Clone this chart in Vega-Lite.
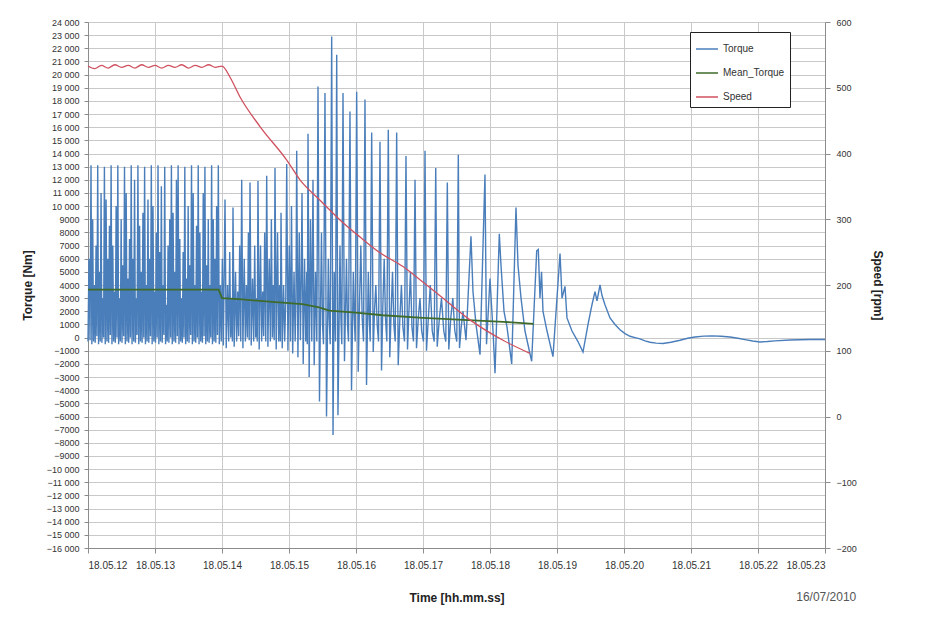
{
  "$schema": "https://vega.github.io/schema/vega-lite/v6.json",
  "width": 737,
  "height": 526,
  "autosize": {"type": "none"},
  "padding": {"left": 88, "top": 22, "right": 111, "bottom": 80},
  "background": "white",
  "title": {"text": "16/07/2010", "orient": "bottom", "anchor": "end", "offset": -11, "fontSize": 12, "fontWeight": "normal", "color": "#555555", "dx": -27},
  "config": {
    "font": "Liberation Sans",
    "view": {"stroke": null},
    "axis": {"labelFontSize": 9, "labelColor": "#333333", "domainColor": "#8c8c8c", "tickColor": "#8c8c8c", "gridColor": "#c9c9c9", "gridWidth": 1, "titleFontSize": 12, "titleFontWeight": "bold", "titleColor": "#222222"},
    "legend": {"strokeColor": "#222222", "fillColor": "white", "padding": 5, "labelFontSize": 10, "labelColor": "#333333", "rowPadding": 7, "symbolType": "stroke", "symbolSize": 484, "symbolStrokeWidth": 1.5, "cornerRadius": 0}
  },
  "datasets": {
    "torque": [
      {"t":0,"v":-300},{"t":0.015,"v":6000},{"t":0.03,"v":-200},
      {"t":0.045,"v":13100},{"t":0.0575,"v":-500},{"t":0.07,"v":9000},{"t":0.0825,"v":-300},{"t":0.095,"v":4000},{"t":0.1075,"v":-400},{"t":0.12,"v":7000},{"t":0.1325,"v":100},
      {"t":0.145,"v":13100},{"t":0.1575,"v":-500},{"t":0.17,"v":5000},{"t":0.1825,"v":-300},{"t":0.195,"v":11000},{"t":0.2075,"v":-400},{"t":0.22,"v":3000},{"t":0.2325,"v":0},
      {"t":0.245,"v":13000},{"t":0.2575,"v":-500},{"t":0.27,"v":10500},{"t":0.2825,"v":-300},{"t":0.295,"v":6000},{"t":0.3075,"v":-400},{"t":0.32,"v":8500},{"t":0.3325,"v":200},
      {"t":0.345,"v":13100},{"t":0.3575,"v":-500},{"t":0.37,"v":7000},{"t":0.3825,"v":-300},{"t":0.395,"v":3500},{"t":0.4075,"v":-400},{"t":0.42,"v":10000},{"t":0.4325,"v":0},
      {"t":0.445,"v":13100},{"t":0.4575,"v":-500},{"t":0.47,"v":3000},{"t":0.4825,"v":-300},{"t":0.495,"v":9000},{"t":0.5075,"v":-400},{"t":0.52,"v":5500},{"t":0.5325,"v":100},
      {"t":0.545,"v":13000},{"t":0.5575,"v":-500},{"t":0.57,"v":11000},{"t":0.5825,"v":-300},{"t":0.595,"v":4500},{"t":0.6075,"v":-400},{"t":0.62,"v":7500},{"t":0.6325,"v":0},
      {"t":0.645,"v":13100},{"t":0.6575,"v":-500},{"t":0.67,"v":6000},{"t":0.6825,"v":-300},{"t":0.695,"v":12000},{"t":0.7075,"v":-400},{"t":0.72,"v":3000},{"t":0.7325,"v":200},
      {"t":0.745,"v":13100},{"t":0.7575,"v":-500},{"t":0.77,"v":8500},{"t":0.7825,"v":-300},{"t":0.795,"v":5000},{"t":0.8075,"v":-400},{"t":0.82,"v":9500},{"t":0.8325,"v":0},
      {"t":0.845,"v":13000},{"t":0.8575,"v":-500},{"t":0.87,"v":4000},{"t":0.8825,"v":-300},{"t":0.895,"v":10500},{"t":0.9075,"v":-400},{"t":0.92,"v":6000},{"t":0.9325,"v":100},
      {"t":0.945,"v":13100},{"t":0.9575,"v":-500},{"t":0.97,"v":10000},{"t":0.9825,"v":-300},{"t":0.995,"v":3500},{"t":1.0075,"v":-400},{"t":1.02,"v":8000},{"t":1.0325,"v":0},
      {"t":1.045,"v":13100},{"t":1.0575,"v":-500},{"t":1.07,"v":6500},{"t":1.0825,"v":-300},{"t":1.095,"v":11500},{"t":1.1075,"v":-400},{"t":1.12,"v":4000},{"t":1.1325,"v":200},
      {"t":1.145,"v":13000},{"t":1.1575,"v":-500},{"t":1.17,"v":2500},{"t":1.1825,"v":-300},{"t":1.195,"v":7000},{"t":1.2075,"v":-400},{"t":1.22,"v":9000},{"t":1.2325,"v":0},
      {"t":1.245,"v":13100},{"t":1.2575,"v":-500},{"t":1.27,"v":9500},{"t":1.2825,"v":-300},{"t":1.295,"v":5000},{"t":1.3075,"v":-400},{"t":1.32,"v":12000},{"t":1.3325,"v":100},
      {"t":1.345,"v":13100},{"t":1.3575,"v":-500},{"t":1.37,"v":7500},{"t":1.3825,"v":-300},{"t":1.395,"v":3000},{"t":1.4075,"v":-400},{"t":1.42,"v":6500},{"t":1.4325,"v":0},
      {"t":1.445,"v":13000},{"t":1.4575,"v":-500},{"t":1.47,"v":4500},{"t":1.4825,"v":-300},{"t":1.495,"v":10000},{"t":1.5075,"v":-400},{"t":1.52,"v":5500},{"t":1.5325,"v":200},
      {"t":1.545,"v":13100},{"t":1.5575,"v":-500},{"t":1.57,"v":11000},{"t":1.5825,"v":-300},{"t":1.595,"v":4000},{"t":1.6075,"v":-400},{"t":1.62,"v":8500},{"t":1.6325,"v":0},
      {"t":1.645,"v":13100},{"t":1.6575,"v":-500},{"t":1.67,"v":8000},{"t":1.6825,"v":-300},{"t":1.695,"v":3500},{"t":1.7075,"v":-400},{"t":1.72,"v":11000},{"t":1.7325,"v":100},
      {"t":1.745,"v":13000},{"t":1.7575,"v":-500},{"t":1.77,"v":5500},{"t":1.7825,"v":-300},{"t":1.795,"v":9000},{"t":1.8075,"v":-400},{"t":1.82,"v":4000},{"t":1.8325,"v":0},
      {"t":1.845,"v":13100},{"t":1.8575,"v":-500},{"t":1.87,"v":9000},{"t":1.8825,"v":-300},{"t":1.895,"v":6000},{"t":1.9075,"v":-400},{"t":1.92,"v":10000},{"t":1.9325,"v":200},
      {"t":1.945,"v":13100},{"t":1.96,"v":-500},{"t":1.975,"v":4000},{"t":1.99,"v":-300},{"t":2.005,"v":6000},{"t":2.02,"v":-600},
      {"t":2.045,"v":10500},{"t":2.063,"v":-800},{"t":2.083,"v":4000},{"t":2.1,"v":-300},{"t":2.115,"v":6500},{"t":2.13,"v":0},{"t":2.146,"v":3000},{"t":2.155,"v":-300},
      {"t":2.164,"v":9900},{"t":2.182,"v":-700},{"t":2.202,"v":5000},{"t":2.219,"v":-300},{"t":2.234,"v":3500},{"t":2.249,"v":100},{"t":2.264,"v":7000},{"t":2.28,"v":-300},
      {"t":2.294,"v":12000},{"t":2.312,"v":-800},{"t":2.332,"v":6000},{"t":2.349,"v":-300},{"t":2.364,"v":4000},{"t":2.379,"v":0},{"t":2.394,"v":8000},{"t":2.406,"v":-200},
      {"t":2.418,"v":11800},{"t":2.436,"v":-600},{"t":2.456,"v":4500},{"t":2.473,"v":-300},{"t":2.488,"v":7000},{"t":2.503,"v":0},{"t":2.516,"v":3000},{"t":2.526,"v":-300},
      {"t":2.537,"v":11900},{"t":2.555,"v":-900},{"t":2.575,"v":7000},{"t":2.592,"v":-300},{"t":2.607,"v":3500},{"t":2.622,"v":100},{"t":2.637,"v":8000},{"t":2.653,"v":-300},
      {"t":2.667,"v":12300},{"t":2.685,"v":-700},{"t":2.705,"v":6000},{"t":2.722,"v":-300},{"t":2.737,"v":9000},{"t":2.752,"v":0},{"t":2.767,"v":4000},{"t":2.779,"v":-200},
      {"t":2.791,"v":12900},{"t":2.809,"v":-900},{"t":2.829,"v":8000},{"t":2.846,"v":-300},{"t":2.86,"v":4000},{"t":2.871,"v":-300},
      {"t":2.881,"v":9500},{"t":2.899,"v":-800},{"t":2.919,"v":4000},{"t":2.936,"v":-300},{"t":2.952,"v":3000},
      {"t":2.966,"v":13200},{"t":2.984,"v":-1000},{"t":3.004,"v":7000},{"t":3.022,"v":-300},
      {"t":3.037,"v":10000},{"t":3.055,"v":-1200},{"t":3.075,"v":5000},{"t":3.092,"v":-300},{"t":3.104,"v":3000},
      {"t":3.115,"v":14200},{"t":3.133,"v":-1500},{"t":3.153,"v":8000},{"t":3.17,"v":-200},{"t":3.182,"v":4000},
      {"t":3.194,"v":11000},{"t":3.212,"v":-2000},{"t":3.232,"v":6000},{"t":3.25,"v":-300},{"t":3.265,"v":5000},{"t":3.273,"v":-500},
      {"t":3.284,"v":15500},{"t":3.301,"v":-3000},{"t":3.321,"v":9000},{"t":3.34,"v":-300},
      {"t":3.358,"v":12000},{"t":3.376,"v":-2100},{"t":3.396,"v":5000},{"t":3.415,"v":-300},
      {"t":3.433,"v":19100},{"t":3.455,"v":-4850},{"t":3.47,"v":2000},{"t":3.485,"v":8000},{"t":3.5,"v":1000},{"t":3.515,"v":-500},
      {"t":3.537,"v":18600},{"t":3.56,"v":-6000},{"t":3.587,"v":6000},{"t":3.6,"v":1500},{"t":3.615,"v":-500},
      {"t":3.637,"v":22900},{"t":3.657,"v":-7400},{"t":3.675,"v":5000},{"t":3.694,"v":-300},
      {"t":3.712,"v":21500},{"t":3.731,"v":-5900},{"t":3.761,"v":7000},{"t":3.775,"v":1500},{"t":3.788,"v":-500},
      {"t":3.806,"v":18600},{"t":3.828,"v":-1800},{"t":3.845,"v":2500},{"t":3.858,"v":6000},{"t":3.873,"v":1000},{"t":3.888,"v":-300},
      {"t":3.91,"v":17200},{"t":3.933,"v":-4000},{"t":3.96,"v":5000},{"t":3.975,"v":1500},{"t":3.988,"v":-300},
      {"t":4.01,"v":18700},{"t":4.033,"v":-2600},{"t":4.052,"v":2500},{"t":4.072,"v":7000},{"t":4.092,"v":1500},{"t":4.112,"v":-300},
      {"t":4.134,"v":18100},{"t":4.157,"v":-3600},{"t":4.184,"v":5000},{"t":4.198,"v":1500},{"t":4.212,"v":-300},
      {"t":4.234,"v":15600},{"t":4.257,"v":-1100},{"t":4.276,"v":2000},{"t":4.296,"v":4000},{"t":4.316,"v":1000},{"t":4.336,"v":-300},
      {"t":4.358,"v":14900},{"t":4.381,"v":-2500},{"t":4.401,"v":2500},{"t":4.421,"v":6000},{"t":4.44,"v":1500},{"t":4.46,"v":-300},
      {"t":4.482,"v":15800},{"t":4.504,"v":-1500},{"t":4.525,"v":2000},{"t":4.545,"v":5000},{"t":4.565,"v":1000},{"t":4.585,"v":-300},
      {"t":4.607,"v":15600},{"t":4.63,"v":-2100},{"t":4.655,"v":1500},{"t":4.678,"v":4000},{"t":4.7,"v":800},{"t":4.724,"v":-300},
      {"t":4.746,"v":13800},{"t":4.769,"v":-900},{"t":4.79,"v":2000},{"t":4.813,"v":5000},{"t":4.835,"v":800},{"t":4.858,"v":-300},
      {"t":4.881,"v":12000},{"t":4.903,"v":-800},{"t":4.93,"v":1500},{"t":4.955,"v":3000},{"t":4.98,"v":500},{"t":5.007,"v":-300},
      {"t":5.03,"v":14200},{"t":5.052,"v":-1000},{"t":5.08,"v":1500},{"t":5.109,"v":4000},{"t":5.138,"v":500},{"t":5.167,"v":-300},
      {"t":5.19,"v":12900},{"t":5.212,"v":-700},{"t":5.245,"v":1500},{"t":5.276,"v":3000},{"t":5.31,"v":500},{"t":5.34,"v":-300},
      {"t":5.363,"v":11800},{"t":5.385,"v":-900},{"t":5.415,"v":1500},{"t":5.445,"v":3000},{"t":5.475,"v":500},{"t":5.504,"v":-300},
      {"t":5.527,"v":13900},{"t":5.545,"v":-800},{"t":5.57,"v":800},{"t":5.597,"v":2000},{"t":5.642,"v":-200},
      {"t":5.716,"v":7700},{"t":5.746,"v":3500},{"t":5.791,"v":1000},{"t":5.851,"v":-1300},
      {"t":5.925,"v":12400},{"t":5.948,"v":-500},{"t":6.0,"v":4500},{"t":6.045,"v":500},
      {"t":6.075,"v":-2700},{"t":6.139,"v":7900},{"t":6.164,"v":5500},{"t":6.209,"v":2000},
      {"t":6.254,"v":800},{"t":6.324,"v":-2000},{"t":6.388,"v":9900},{"t":6.418,"v":5500},
      {"t":6.463,"v":3000},{"t":6.522,"v":500},{"t":6.622,"v":-1800},{"t":6.697,"v":6600},
      {"t":6.721,"v":6700},{"t":6.746,"v":3000},{"t":6.769,"v":5000},{"t":6.791,"v":2000},
      {"t":6.851,"v":500},{"t":6.94,"v":-1450},{"t":7.045,"v":6400},{"t":7.075,"v":3000},
      {"t":7.119,"v":3900},{"t":7.149,"v":1500},{"t":7.224,"v":500},{"t":7.313,"v":-300},
      {"t":7.388,"v":-1100},{"t":7.463,"v":1000},{"t":7.522,"v":2500},{"t":7.567,"v":3500},
      {"t":7.597,"v":2800},{"t":7.642,"v":4000},{"t":7.672,"v":3200},{"t":7.716,"v":2500},
      {"t":7.791,"v":1500},{"t":7.866,"v":1000},{"t":7.94,"v":600},{"t":8.015,"v":300},{"t":8.09,"v":100},
      {"t":8.164,"v":0},{"t":8.239,"v":-100},{"t":8.313,"v":-250},{"t":8.388,"v":-350},{"t":8.48,"v":-420},
      {"t":8.582,"v":-450},{"t":8.7,"v":-350},{"t":8.836,"v":-200},{"t":8.95,"v":-50},{"t":9.06,"v":50},
      {"t":9.19,"v":110},{"t":9.313,"v":130},{"t":9.45,"v":100},{"t":9.582,"v":50},{"t":9.7,"v":-50},
      {"t":9.806,"v":-150},{"t":9.92,"v":-260},{"t":10.03,"v":-330},{"t":10.14,"v":-300},{"t":10.254,"v":-250},
      {"t":10.478,"v":-180},{"t":10.776,"v":-150},{"t":11.0,"v":-150}
    ],
    "mean": [
      {"t":0,"v":3650},{"t":1.95,"v":3650},{"t":2.0,"v":3000},{"t":2.3,"v":2900},
      {"t":2.8,"v":2700},{"t":3.2,"v":2550},{"t":3.45,"v":2300},{"t":3.6,"v":2050},
      {"t":4.0,"v":1900},{"t":4.4,"v":1700},{"t":5.0,"v":1500},{"t":5.6,"v":1350},
      {"t":6.2,"v":1200},{"t":6.65,"v":1050}
    ],
    "speed": [
      {"t":0,"v":533},{"t":0.1,"v":529},{"t":0.2,"v":534},{"t":0.3,"v":530},{"t":0.4,"v":535},
      {"t":0.5,"v":531},{"t":0.6,"v":534},{"t":0.7,"v":530},{"t":0.8,"v":535},{"t":0.9,"v":531},
      {"t":1.0,"v":534},{"t":1.1,"v":530},{"t":1.2,"v":534},{"t":1.3,"v":531},{"t":1.4,"v":535},
      {"t":1.5,"v":530},{"t":1.6,"v":534},{"t":1.7,"v":531},{"t":1.8,"v":535},{"t":1.9,"v":531},
      {"t":2.0,"v":533},{"t":2.12,"v":516},{"t":2.269,"v":486},{"t":2.567,"v":441},
      {"t":2.966,"v":390},{"t":3.164,"v":360},{"t":3.463,"v":329},{"t":3.761,"v":299},
      {"t":4.06,"v":273},{"t":4.358,"v":249},{"t":4.701,"v":228},{"t":4.955,"v":208},
      {"t":5.204,"v":188},{"t":5.701,"v":147},{"t":6.194,"v":116},{"t":6.597,"v":96}
    ]
  },
  "encoding": {
    "x": {
      "field": "t", "type": "quantitative",
      "scale": {"domain": [0, 11], "nice": false, "zero": false},
      "axis": {"values": [0,1,2,3,4,5,6,7,8,9,10,11], "labelExpr": "'18.05.' + (12 + datum.value)", "title": "Time [hh.mm.ss]", "labelFontSize": 10, "labelPadding": 7, "titlePadding": 22, "tickSize": 5, "grid": true}
    }
  },
  "layer": [
    {
      "encoding": {
        "y": {
          "field": "v", "type": "quantitative",
          "scale": {"domain": [-16000, 24000], "nice": false},
          "axis": {"values": [-16000,-15000,-14000,-13000,-12000,-11000,-10000,-9000,-8000,-7000,-6000,-5000,-4000,-3000,-2000,-1000,0,1000,2000,3000,4000,5000,6000,7000,8000,9000,10000,11000,12000,13000,14000,15000,16000,17000,18000,19000,20000,21000,22000,23000,24000],
            "labelExpr": "abs(datum.value) >= 10000 ? replace(format(datum.value, ','), ',', ' ') : format(datum.value, 'd')",
            "title": "Torque [Nm]", "titlePadding": 12, "tickSize": 4, "labelPadding": 5, "grid": true}
        }
      },
      "layer": [
        {
          "data": {"name": "torque"},
          "mark": {"type": "line", "strokeWidth": 1.4, "interpolate": "linear"},
          "encoding": {
            "color": {"datum": "Torque", "type": "nominal",
              "scale": {"domain": ["Torque", "Mean_Torque", "Speed"], "range": ["#4a7ebb", "#3e6b2a", "#d0505f"]},
              "legend": {"title": null, "orient": "none", "legendX": 602, "legendY": 10}}
          }
        },
        {
          "data": {"name": "mean"},
          "mark": {"type": "line", "strokeWidth": 1.8},
          "encoding": {"color": {"datum": "Mean_Torque", "type": "nominal"}}
        }
      ]
    },
    {
      "data": {"name": "speed"},
      "mark": {"type": "line", "strokeWidth": 1.3, "interpolate": "monotone"},
      "encoding": {
        "y": {
          "field": "v", "type": "quantitative",
          "scale": {"domain": [-200, 600], "nice": false},
          "axis": {"orient": "right", "values": [-200,-100,0,100,200,300,400,500,600], "title": "Speed [rpm]", "titlePadding": 14, "grid": false, "tickSize": 5, "labelPadding": 6}
        },
        "color": {"datum": "Speed", "type": "nominal"}
      }
    }
  ],
  "resolve": {"scale": {"y": "independent"}}
}
